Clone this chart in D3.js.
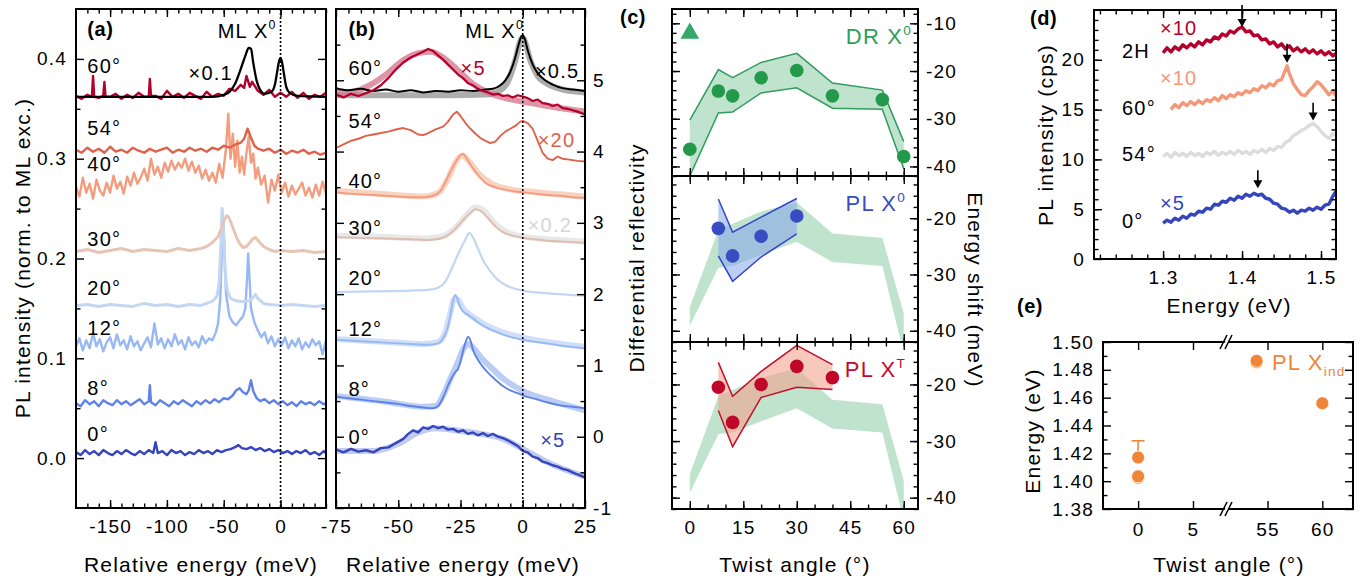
<!DOCTYPE html>
<html>
<head>
<meta charset="utf-8">
<script src="https://cdn.jsdelivr.net/npm/d3@7"></script>
<style>
  body { margin: 0; background: #fff; }
  svg text { font-family: 'Liberation Sans', Arial, Helvetica, sans-serif; }
</style>
</head>
<body>
<script>
// ---------------- data ----------------

// (a) PL spectra, [relative energy (meV), normalised PL intensity]
const plBlack60 = [[-180, .362], [-60, .362], [-50, .364], [-45, .367], [-40, .375], [-35, .390], [-31, .403], [-28, .411], [-26, .410], [-24, .396], [-21, .378], [-18, .369], [-14, .365], [-8, .367], [-5, .374], [-3, .387], [-1, .399], [0, .401], [1, .398], [3, .385], [5, .372], [8, .366], [15, .363], [40, .362]];
const pl60 = [[-180, .363], [-175, .360], [-170, .364], [-166, .362], [-165, .383], [-164, .362], [-160, .361], [-156, .363], [-155, .377], [-154, .362], [-150, .362], [-145, .365], [-140, .360], [-135, .364], [-130, .361], [-125, .366], [-120, .362], [-116, .362], [-115, .380], [-114, .363], [-110, .363], [-105, .360], [-100, .368], [-95, .362], [-90, .365], [-85, .361], [-80, .366], [-75, .363], [-70, .360], [-65, .367], [-60, .362], [-55, .365], [-50, .363], [-45, .370], [-40, .368], [-35, .374], [-32, .371], [-30, .383], [-27, .372], [-25, .377], [-20, .368], [-15, .364], [-10, .369], [-5, .362], [0, .366], [5, .362], [10, .367], [15, .361], [20, .366], [25, .360], [30, .364], [35, .362], [40, .366]];
const pl54 = [[-180, .309], [-175, .306], [-170, .311], [-165, .307], [-160, .310], [-155, .306], [-150, .312], [-145, .307], [-140, .309], [-135, .306], [-130, .311], [-125, .308], [-120, .306], [-115, .310], [-110, .307], [-105, .309], [-100, .311], [-95, .306], [-90, .309], [-85, .307], [-80, .311], [-75, .308], [-70, .310], [-65, .307], [-60, .311], [-55, .309], [-50, .313], [-45, .311], [-40, .314], [-35, .316], [-32, .320], [-29, .330], [-26, .321], [-23, .313], [-20, .310], [-15, .308], [-10, .310], [-5, .306], [0, .309], [5, .305], [10, .308], [15, .306], [20, .309], [25, .305], [30, .307], [35, .304], [40, .306]];
const pl40 = [[-180, .272], [-177, .262], [-174, .281], [-171, .266], [-168, .275], [-165, .260], [-162, .279], [-159, .268], [-156, .263], [-153, .276], [-150, .266], [-147, .283], [-144, .270], [-141, .277], [-138, .265], [-135, .282], [-132, .273], [-129, .286], [-126, .275], [-123, .281], [-120, .290], [-117, .278], [-114, .300], [-111, .284], [-108, .292], [-105, .281], [-102, .296], [-99, .287], [-96, .298], [-93, .289], [-90, .296], [-87, .291], [-84, .300], [-81, .288], [-78, .297], [-75, .286], [-72, .293], [-69, .280], [-66, .289], [-63, .278], [-60, .286], [-57, .276], [-54, .295], [-51, .281], [-48, .310], [-46, .345], [-44, .300], [-42, .325], [-40, .292], [-38, .318], [-36, .286], [-34, .302], [-32, .284], [-30, .306], [-28, .322], [-26, .296], [-24, .305], [-22, .280], [-20, .291], [-17, .274], [-14, .283], [-11, .256], [-8, .279], [-5, .268], [-2, .284], [1, .266], [4, .276], [7, .262], [10, .273], [13, .264], [16, .270], [19, .276], [22, .263], [25, .271], [28, .261], [31, .274], [34, .263], [37, .277], [40, .265]];
const pl30 = [[-180, .207], [-170, .209], [-160, .206], [-150, .208], [-140, .210], [-130, .207], [-120, .209], [-110, .208], [-100, .207], [-90, .210], [-80, .208], [-70, .210], [-65, .212], [-60, .216], [-55, .222], [-52, .230], [-49, .240], [-47, .243], [-45, .240], [-42, .231], [-39, .222], [-36, .215], [-33, .211], [-30, .212], [-27, .216], [-24, .220], [-22, .221], [-19, .217], [-15, .212], [-10, .209], [-5, .207], [0, .208], [10, .207], [20, .208], [30, .206], [40, .207]];
const pl20 = [[-180, .153], [-170, .154], [-160, .152], [-150, .154], [-140, .153], [-130, .152], [-120, .155], [-110, .153], [-100, .154], [-90, .152], [-80, .154], [-70, .153], [-65, .155], [-60, .157], [-56, .162], [-54, .175], [-52.5, .215], [-51.5, .250], [-50.5, .240], [-49, .190], [-47, .168], [-44, .160], [-40, .158], [-35, .157], [-30, .157], [-27, .158], [-24, .161], [-22, .164], [-20, .160], [-15, .155], [-10, .154], [0, .153], [10, .154], [20, .153], [30, .152], [40, .153]];
const pl12 = [[-180, .112], [-177, .120], [-174, .108], [-171, .118], [-168, .110], [-165, .125], [-162, .112], [-159, .119], [-156, .107], [-153, .116], [-150, .121], [-147, .110], [-144, .124], [-141, .113], [-138, .118], [-135, .109], [-132, .122], [-129, .112], [-126, .117], [-123, .108], [-120, .115], [-117, .121], [-114, .111], [-111, .135], [-108, .114], [-105, .120], [-102, .110], [-99, .119], [-96, .112], [-93, .124], [-90, .114], [-87, .118], [-84, .109], [-81, .121], [-78, .113], [-75, .117], [-72, .111], [-69, .122], [-66, .115], [-63, .120], [-60, .118], [-57, .126], [-55, .135], [-53, .160], [-51.5, .215], [-50.5, .235], [-49.5, .215], [-48, .165], [-45, .142], [-42, .136], [-39, .133], [-36, .138], [-33, .142], [-31, .150], [-29.5, .180], [-28.5, .205], [-27.5, .185], [-26, .150], [-23, .136], [-20, .128], [-17, .121], [-14, .126], [-11, .115], [-8, .122], [-5, .112], [-2, .119], [1, .113], [4, .121], [7, .110], [10, .118], [13, .112], [16, .120], [19, .109], [22, .116], [25, .111], [28, .119], [31, .113], [34, .117], [37, .104], [40, .118]];
const pl8 = [[-180, .055], [-176, .052], [-172, .058], [-168, .054], [-164, .057], [-160, .052], [-156, .058], [-152, .055], [-148, .053], [-144, .058], [-140, .054], [-136, .057], [-132, .053], [-128, .056], [-124, .059], [-120, .054], [-116, .057], [-115, .073], [-114, .056], [-110, .053], [-106, .058], [-102, .055], [-98, .052], [-94, .057], [-90, .054], [-86, .058], [-82, .055], [-78, .052], [-74, .057], [-70, .054], [-66, .058], [-62, .055], [-58, .059], [-54, .056], [-50, .060], [-46, .059], [-42, .063], [-39, .068], [-36, .070], [-33, .066], [-30, .064], [-28, .068], [-26, .078], [-24, .067], [-21, .060], [-18, .057], [-14, .059], [-10, .055], [-6, .058], [-2, .054], [2, .057], [6, .053], [10, .056], [14, .052], [18, .057], [22, .054], [26, .056], [30, .053], [34, .057], [38, .054], [40, .055]];
const pl0 = [[-180, .006], [-176, .003], [-172, .008], [-168, .004], [-164, .007], [-160, .003], [-156, .008], [-152, .005], [-148, .003], [-144, .007], [-140, .004], [-136, .008], [-132, .005], [-128, .003], [-124, .007], [-120, .004], [-116, .008], [-112, .005], [-110, .016], [-108, .005], [-104, .007], [-100, .003], [-96, .008], [-92, .005], [-88, .007], [-84, .003], [-80, .006], [-76, .004], [-72, .008], [-68, .005], [-64, .007], [-60, .004], [-56, .008], [-52, .006], [-48, .008], [-44, .009], [-40, .011], [-37, .013], [-34, .010], [-30, .009], [-26, .011], [-22, .008], [-18, .010], [-14, .007], [-10, .009], [-6, .006], [-2, .008], [2, .005], [6, .007], [10, .004], [14, .007], [18, .005], [22, .008], [26, .004], [30, .006], [34, .003], [38, .007], [40, .005]];
const aAngleLabels = ['60°', '54°', '40°', '30°', '20°', '12°', '8°', '0°'];
const aLabelLevels = [0.386, 0.324, 0.288, 0.213, 0.163, 0.123, 0.063, 0.017];

// (b) differential reflectivity, [relative energy (meV), DR]
const dr60Black = [[-75, 4.89], [-70, 4.86], [-65, 4.88], [-60, 4.85], [-55, 4.87], [-50, 4.84], [-45, 4.86], [-40, 4.83], [-35, 4.85], [-30, 4.84], [-25, 4.86], [-20, 4.85], [-15, 4.87], [-12, 4.88], [-9, 4.93], [-7, 5.00], [-5, 5.12], [-3, 5.32], [-1.5, 5.52], [-0.5, 5.62], [0, 5.63], [0.8, 5.58], [2, 5.42], [4, 5.22], [6, 5.10], [9, 5.00], [12, 4.94], [16, 4.89], [20, 4.87], [25, 4.85]];
const dr60BlackFit = [[-75, 4.79], [-50, 4.79], [-30, 4.79], [-15, 4.80], [-10, 4.84], [-6, 4.98], [-3, 5.28], [-1, 5.55], [0, 5.60], [1, 5.53], [3, 5.28], [6, 5.06], [10, 4.95], [15, 4.88], [25, 4.83]];
const dr60Red = [[-75, 4.80], [-72, 4.76], [-69, 4.81], [-66, 4.78], [-63, 4.82], [-60, 4.86], [-57, 4.93], [-54, 5.03], [-51, 5.15], [-48, 5.25], [-45, 5.32], [-42, 5.37], [-40, 5.40], [-38, 5.44], [-36, 5.41], [-34, 5.35], [-32, 5.29], [-30, 5.22], [-28, 5.15], [-26, 5.08], [-24, 5.03], [-22, 4.96], [-20, 4.93], [-18, 4.88], [-16, 4.85], [-14, 4.83], [-12, 4.80], [-10, 4.81], [-8, 4.78], [-6, 4.79], [-4, 4.76], [-2, 4.79], [0, 4.77], [2, 4.75], [4, 4.71], [6, 4.73], [8, 4.68], [10, 4.67], [12, 4.64], [14, 4.66], [16, 4.61], [18, 4.60], [20, 4.58], [22, 4.56], [25, 4.52]];
const dr60RedFit = [[-75, 4.82], [-68, 4.84], [-62, 4.92], [-55, 5.08], [-48, 5.28], [-42, 5.38], [-37, 5.40], [-32, 5.32], [-26, 5.14], [-20, 4.95], [-14, 4.83], [-8, 4.76], [0, 4.70], [10, 4.64], [25, 4.56]];
const dr54 = [[-75, 4.05], [-72, 4.10], [-69, 4.15], [-66, 4.18], [-63, 4.22], [-60, 4.24], [-57, 4.26], [-54, 4.28], [-51, 4.31], [-48, 4.33], [-45, 4.30], [-42, 4.24], [-40, 4.23], [-38, 4.26], [-35, 4.31], [-32, 4.35], [-30, 4.42], [-28, 4.52], [-26.5, 4.56], [-25, 4.50], [-23, 4.40], [-21, 4.32], [-19, 4.25], [-17, 4.19], [-15, 4.15], [-13, 4.12], [-11, 4.14], [-9, 4.22], [-7, 4.28], [-5, 4.32], [-3, 4.36], [-1, 4.42], [0, 4.43], [2, 4.40], [4, 4.32], [6, 4.15], [8, 3.98], [10, 3.90], [12, 3.88], [14, 3.93], [16, 3.90], [18, 3.89], [20, 3.88], [22, 3.87], [25, 3.86]];
const dr40 = [[-75, 3.43], [-70, 3.41], [-65, 3.40], [-60, 3.39], [-55, 3.38], [-50, 3.37], [-45, 3.36], [-40, 3.36], [-36, 3.38], [-33, 3.45], [-31, 3.58], [-29, 3.72], [-27, 3.85], [-25, 3.95], [-24, 3.97], [-23, 3.93], [-21, 3.82], [-19, 3.72], [-17, 3.63], [-15, 3.56], [-12, 3.51], [-9, 3.48], [-6, 3.46], [-3, 3.44], [0, 3.43], [5, 3.41], [10, 3.39], [15, 3.38], [20, 3.36], [25, 3.35]];
const dr40Fit = [[-75, 3.45], [-55, 3.40], [-40, 3.37], [-34, 3.42], [-30, 3.62], [-27, 3.85], [-24.5, 3.94], [-22, 3.88], [-18, 3.70], [-13, 3.56], [-5, 3.47], [5, 3.43], [15, 3.40], [25, 3.37]];
const dr30 = [[-75, 2.80], [-65, 2.79], [-55, 2.78], [-45, 2.77], [-38, 2.76], [-33, 2.78], [-30, 2.83], [-27, 2.92], [-24, 3.04], [-21, 3.14], [-19, 3.19], [-17, 3.17], [-14, 3.07], [-11, 2.95], [-8, 2.87], [-4, 2.82], [0, 2.79], [5, 2.77], [10, 2.75], [15, 2.74], [20, 2.73], [25, 2.72]];
const dr30Fit = [[-75, 2.82], [-55, 2.80], [-40, 2.78], [-32, 2.81], [-27, 2.93], [-22, 3.13], [-19, 3.22], [-16, 3.18], [-12, 3.02], [-7, 2.88], [0, 2.81], [10, 2.77], [25, 2.74]];
const dr20 = [[-75, 2.03], [-60, 2.04], [-45, 2.05], [-38, 2.06], [-34, 2.09], [-31, 2.18], [-29, 2.32], [-27, 2.48], [-25, 2.63], [-23, 2.77], [-21.5, 2.86], [-20, 2.80], [-18, 2.64], [-16, 2.48], [-13, 2.32], [-10, 2.20], [-6, 2.11], [0, 2.05], [10, 2.01], [25, 1.98]];
const dr12 = [[-75, 1.36], [-65, 1.34], [-55, 1.32], [-45, 1.30], [-38, 1.29], [-34, 1.31], [-32, 1.38], [-30, 1.55], [-29, 1.72], [-28, 1.90], [-27.2, 1.99], [-26.5, 1.96], [-25.5, 1.85], [-24, 1.76], [-22, 1.71], [-20, 1.66], [-17, 1.58], [-14, 1.52], [-10, 1.46], [-5, 1.40], [0, 1.36], [5, 1.33], [10, 1.31], [15, 1.28], [20, 1.26], [25, 1.24]];
const dr12Fit = [[-75, 1.37], [-55, 1.33], [-40, 1.30], [-34, 1.33], [-31, 1.48], [-29, 1.75], [-27.5, 1.93], [-26, 1.92], [-24, 1.80], [-20, 1.68], [-15, 1.57], [-10, 1.49], [0, 1.39], [10, 1.33], [25, 1.26]];
const dr8 = [[-75, 0.56], [-70, 0.54], [-65, 0.52], [-60, 0.50], [-55, 0.48], [-50, 0.46], [-45, 0.43], [-40, 0.41], [-36, 0.40], [-34, 0.43], [-32, 0.55], [-30, 0.72], [-28, 0.86], [-27, 0.91], [-26, 0.95], [-25, 1.05], [-24, 1.20], [-23, 1.32], [-22, 1.40], [-21, 1.35], [-20, 1.22], [-18, 1.08], [-16, 0.98], [-14, 0.90], [-11, 0.80], [-8, 0.71], [-5, 0.65], [-2, 0.61], [0, 0.58], [5, 0.53], [10, 0.48], [15, 0.44], [20, 0.42], [25, 0.40]];
const dr8Fit = [[-75, 0.57], [-55, 0.49], [-40, 0.42], [-35, 0.43], [-32, 0.58], [-29, 0.82], [-26, 1.05], [-24, 1.22], [-22, 1.30], [-20, 1.25], [-17, 1.12], [-13, 0.98], [-8, 0.82], [-3, 0.70], [0, 0.64], [10, 0.52], [25, 0.37]];
const dr0 = [[-75, -0.18], [-72, -0.22], [-69, -0.17], [-66, -0.21], [-63, -0.19], [-60, -0.22], [-57, -0.16], [-54, -0.15], [-51, -0.09], [-48, -0.03], [-46, 0.04], [-44, 0.09], [-42, 0.06], [-40, 0.13], [-38, 0.11], [-36, 0.15], [-34, 0.12], [-32, 0.14], [-30, 0.10], [-28, 0.11], [-26, 0.07], [-24, 0.09], [-22, 0.04], [-20, 0.06], [-18, 0.02], [-16, 0.05], [-14, 0.01], [-12, 0.04], [-10, 0.00], [-8, -0.02], [-6, -0.05], [-4, -0.09], [-2, -0.13], [0, -0.20], [2, -0.22], [4, -0.28], [6, -0.30], [8, -0.35], [10, -0.37], [12, -0.40], [14, -0.42], [16, -0.45], [18, -0.47], [20, -0.50], [22, -0.53], [25, -0.57]];
const dr0Fit = [[-75, -0.20], [-60, -0.20], [-50, -0.10], [-42, 0.06], [-35, 0.12], [-25, 0.08], [-15, 0.03], [-8, -0.03], [0, -0.17], [10, -0.36], [25, -0.56]];
const bLabelLevels = [5.07, 4.33, 3.49, 2.83, 2.13, 1.41, 0.57, -0.10];

// (c) energy shifts vs twist angle (meV)
const drAngles = [0, 8, 12, 20, 30, 40, 54, 60];
const drShift = [-36.4, -24.2, -25.2, -21.4, -19.9, -25.2, -26.0, -37.9];
const drUpper = [-30.3, -19.7, -21.4, -18.2, -16.3, -22.5, -24.0, -34.8];
const drLower = [-42.0, -28.8, -28.6, -24.6, -23.5, -27.8, -28.0, -40.5];
const drTriangle = [0, -12.1];
const refUpper = [-35.8, -22.1, -21.0, -18.8, -17.2, -22.7, -23.5, -37.0];
const refLower = [-39.1, -28.8, -28.5, -26.5, -24.2, -27.8, -28.5, -44.0];
const plAngles = [8, 12, 20, 30];
const plShift = [-21.8, -26.7, -23.2, -19.6];
const plUpper = [-16.6, -22.5, -19.8, -16.5];
const plLower = [-26.7, -31.2, -26.9, -22.8];
const trAngles = [8, 12, 20, 30, 40];
const trShift = [-20.5, -26.7, -20.0, -16.8, -18.8];
const trUpper = [-16.1, -22.1, -17.7, -13.1, -16.5];
const trLower = [-24.6, -31.0, -22.3, -20.5, -20.9];

// (d) PL spectra, [energy (eV), counts/s]
const d2H = [[1.300, 20.7], [1.305, 21.2], [1.310, 20.8], [1.315, 21.3], [1.320, 21.0], [1.325, 21.5], [1.330, 21.2], [1.335, 21.6], [1.340, 21.3], [1.345, 21.8], [1.350, 21.5], [1.355, 22.0], [1.360, 21.8], [1.365, 22.3], [1.370, 22.1], [1.375, 22.6], [1.380, 22.4], [1.385, 22.9], [1.390, 22.7], [1.395, 23.1], [1.400, 23.3], [1.405, 22.8], [1.410, 22.9], [1.415, 22.4], [1.420, 22.5], [1.425, 22.0], [1.430, 22.1], [1.435, 21.6], [1.440, 21.8], [1.445, 21.3], [1.450, 21.6], [1.455, 21.1], [1.460, 21.4], [1.465, 20.9], [1.470, 21.2], [1.475, 20.8], [1.480, 21.1], [1.485, 20.7], [1.490, 21.0], [1.495, 20.6], [1.500, 20.9], [1.505, 20.5], [1.510, 20.8], [1.515, 20.4], [1.520, 20.7]];
const d60 = [[1.310, 15.0], [1.315, 15.5], [1.320, 15.2], [1.325, 15.7], [1.330, 15.4], [1.335, 15.8], [1.340, 15.5], [1.345, 15.9], [1.350, 15.6], [1.355, 16.0], [1.360, 15.8], [1.365, 16.2], [1.370, 15.9], [1.375, 16.4], [1.380, 16.1], [1.385, 16.5], [1.390, 16.3], [1.395, 16.7], [1.400, 16.5], [1.405, 16.9], [1.410, 16.7], [1.415, 17.1], [1.420, 16.9], [1.425, 17.4], [1.430, 17.2], [1.435, 17.6], [1.440, 17.4], [1.445, 17.9], [1.450, 18.0], [1.455, 19.0], [1.457, 19.4], [1.460, 18.6], [1.465, 17.6], [1.470, 17.0], [1.475, 16.5], [1.480, 16.4], [1.485, 16.9], [1.490, 17.3], [1.495, 17.8], [1.500, 17.5], [1.505, 17.0], [1.510, 16.5], [1.515, 16.9], [1.520, 16.2]];
const d54 = [[1.300, 10.3], [1.305, 10.6], [1.310, 10.2], [1.315, 10.7], [1.320, 10.4], [1.325, 10.6], [1.330, 10.3], [1.335, 10.7], [1.340, 10.4], [1.345, 10.6], [1.350, 10.3], [1.355, 10.7], [1.360, 10.5], [1.365, 10.8], [1.370, 10.4], [1.375, 10.7], [1.380, 10.5], [1.385, 10.8], [1.390, 10.5], [1.395, 10.9], [1.400, 10.6], [1.405, 10.8], [1.410, 10.5], [1.415, 10.9], [1.420, 10.7], [1.425, 11.0], [1.430, 10.7], [1.435, 11.1], [1.440, 10.9], [1.445, 11.3], [1.450, 11.2], [1.455, 11.7], [1.460, 11.9], [1.465, 12.4], [1.470, 12.6], [1.475, 12.9], [1.480, 13.1], [1.485, 13.4], [1.490, 13.6], [1.495, 13.3], [1.500, 12.8], [1.505, 12.4], [1.510, 12.1], [1.515, 12.6], [1.520, 12.3]];
const d0 = [[1.300, 3.6], [1.305, 3.9], [1.310, 3.7], [1.315, 4.1], [1.320, 3.9], [1.325, 4.3], [1.330, 4.1], [1.335, 4.5], [1.340, 4.4], [1.345, 4.8], [1.350, 4.7], [1.355, 5.1], [1.360, 5.0], [1.365, 5.5], [1.370, 5.4], [1.375, 5.8], [1.380, 5.7], [1.385, 6.1], [1.390, 5.9], [1.395, 6.3], [1.400, 6.1], [1.405, 6.5], [1.410, 6.3], [1.415, 6.6], [1.420, 6.4], [1.425, 6.5], [1.430, 6.1], [1.435, 6.0], [1.440, 5.6], [1.445, 5.5], [1.450, 5.1], [1.455, 5.0], [1.460, 4.7], [1.465, 4.9], [1.470, 4.6], [1.475, 4.9], [1.480, 4.8], [1.485, 5.1], [1.490, 4.9], [1.495, 5.2], [1.500, 5.0], [1.505, 5.4], [1.510, 5.5], [1.515, 6.3], [1.520, 6.9]];
const arrowEnergy = [1.400, 1.457, 1.490, 1.420];
const arrowFrom = [25.5, 21.6, 15.7, 8.9];
const arrowTo = [23.3, 19.7, 13.9, 7.1];

// (e) interlayer exciton energies
const xindAngles = [0, 0, 0, 54, 54, 60];
const xindEnergy = [1.4025, 1.4035, 1.417, 1.4855, 1.4865, 1.456];
const xindErrTop = 1.429;

// ---------------- drawing ----------------
const svg = d3.select('body').append('svg').attr('width', 1371).attr('height', 585);
const defs = svg.append('defs');

function clip(id, x0, y0, x1, y1) {
  defs.append('clipPath').attr('id', id).append('rect')
    .attr('x', x0).attr('y', y0).attr('width', x1 - x0).attr('height', y1 - y0);
  return `url(#${id})`;
}

// one row of ticks through d3.axis, styled like the figure
function tickRow(g, axisFn, scale, vals, size, tr, fmt, pad) {
  const sel = g.append('g').attr('transform', tr)
    .call(axisFn(scale).tickValues(vals).tickSize(size).tickPadding(pad || 0).tickFormat(fmt || (() => '')));
  sel.attr('font-family', null).attr('font-size', null);
  sel.select('.domain').remove();
  sel.selectAll('line').attr('stroke', '#000').attr('stroke-width', 1.4);
  sel.selectAll('text').attr('fill', '#000').style('font-size', '19px').style('letter-spacing', '1.2px');
  return sel;
}

function frame(g, xs, ys, o) {
  const [xl, xr] = xs.range();
  const [yb, yt] = ys.range();
  tickRow(g, d3.axisBottom, xs, o.xMinor, -4.5, `translate(0,${yb})`);
  tickRow(g, d3.axisBottom, xs, o.xMajor, -8, `translate(0,${yb})`, o.xFmt, 12);
  tickRow(g, d3.axisTop, xs, o.xMinor, -4.5, `translate(0,${yt})`);
  tickRow(g, d3.axisTop, xs, o.xMajor, -8, `translate(0,${yt})`);
  tickRow(g, d3.axisLeft, ys, o.yMinor, -4.5, `translate(${xl},0)`);
  tickRow(g, d3.axisLeft, ys, o.yMajor, -8, `translate(${xl},0)`, o.yLeftFmt, 9);
  tickRow(g, d3.axisRight, ys, o.yMinor, -4.5, `translate(${xr},0)`);
  tickRow(g, d3.axisRight, ys, o.yMajor, -8, `translate(${xr},0)`, o.yRightFmt, 8);
  g.append('rect').attr('x', xl).attr('y', yt).attr('width', xr - xl).attr('height', yb - yt)
    .attr('fill', 'none').attr('stroke', '#000').attr('stroke-width', 2);
}

function label(g, x, y, txt, o = {}) {
  const t = g.append('text').attr('x', x).attr('y', y)
    .attr('font-size', o.size || 20).attr('fill', o.color || '#000')
    .attr('text-anchor', o.anchor || 'start')
    .attr('font-weight', o.bold ? 'bold' : null)
    .style('letter-spacing', (o.ls === undefined ? 1.2 : o.ls) + 'px');
  t.append('tspan').text(txt);
  if (o.sup) t.append('tspan').attr('font-size', (o.size || 20) * 0.62).attr('dy', -9).text(o.sup);
  if (o.sub) t.append('tspan').attr('font-size', (o.size || 20) * 0.62).attr('dy', 6).text(o.sub);
  return t;
}

function axisTitle(x, y, txt, rot) {
  svg.append('text').attr('transform', `translate(${x},${y}) rotate(${rot || 0})`)
    .attr('text-anchor', 'middle').attr('font-size', 21).style('letter-spacing', '1.2px').text(txt);
}

const lineOf = (xs, ys, curve) => d3.line().x((d) => xs(d[0])).y((d) => ys(d[1])).curve(curve || d3.curveLinear);

function trace(g, data, xs, ys, color, width, o = {}) {
  g.append('path').datum(data).attr('d', lineOf(xs, ys, o.curve)(data))
    .attr('fill', 'none').attr('stroke', color).attr('stroke-width', width)
    .attr('stroke-linejoin', 'round').attr('stroke-opacity', o.opacity || 1);
}

const COL = {
  a60: '#b4002c', a54: '#e0604a', a40: '#f49c7e', a30: '#e7c5b6', a20: '#c3d6f2',
  a12: '#97b8f3', a8: '#5f82e6', a0: '#3545bd',
};

// ---------- (a) ----------
const xa = d3.scaleLinear().domain([-180, 40]).range([76, 326]);
const ya = d3.scaleLinear().domain([-0.05, 0.45]).range([508, 9]);
const ga = svg.append('g');
const pa = ga.append('g').attr('clip-path', clip('clipA', 76, 9, 326, 508));
[[pl0, COL.a0, 2.4], [pl8, COL.a8, 2.4], [pl12, COL.a12, 2.4], [pl20, COL.a20, 3], [pl30, COL.a30, 3], [pl40, COL.a40, 2.4], [pl54, COL.a54, 2.4], [pl60, COL.a60, 2.4]]
  .forEach(([d, c, w]) => trace(pa, d, xa, ya, c, w));
trace(pa, plBlack60, xa, ya, '#000', 2.3, { curve: d3.curveMonotoneX });
pa.append('line').attr('x1', xa(0)).attr('x2', xa(0)).attr('y1', 9).attr('y2', 508)
  .attr('stroke', '#000').attr('stroke-width', 1.6).attr('stroke-dasharray', '2,2');
frame(ga, xa, ya, {
  xMajor: [-150, -100, -50, 0], xMinor: d3.range(-170, 41, 10), xFmt: (d) => String(d),
  yMajor: [0, 0.1, 0.2, 0.3, 0.4], yMinor: [0.05, 0.15, 0.25, 0.35], yLeftFmt: d3.format('.1f'),
});
aAngleLabels.forEach((t, i) => label(ga, xa(-170), ya(aLabelLevels[i]), t));
label(ga, xa(-170), 36, '(a)', { bold: true, ls: 0.5 });
label(ga, xa(-81), ya(0.379), '×0.1');
label(ga, xa(-3.5), 38, 'ML X', { anchor: 'end', sup: '0' });
axisTitle(30, 258, 'PL intensity (norm. to ML exc.)', -90);
axisTitle(201, 572, 'Relative energy (meV)');

// ---------- (b) ----------
const xb = d3.scaleLinear().domain([-75, 25]).range([336, 585]);
const yb = d3.scaleLinear().domain([-1, 6]).range([508, 9]);
const gb = svg.append('g');
const pb = gb.append('g').attr('clip-path', clip('clipB', 336, 9, 585, 508));
const smooth = { curve: d3.curveMonotoneX };
trace(pb, dr0Fit, xb, yb, '#9aa8e8', 6, { curve: d3.curveMonotoneX, opacity: 0.6 });
trace(pb, dr8Fit, xb, yb, '#a9c0f5', 6, { curve: d3.curveMonotoneX, opacity: 0.8 });
trace(pb, dr12Fit, xb, yb, '#c5d7f8', 6, { curve: d3.curveMonotoneX, opacity: 0.8 });
trace(pb, dr30Fit, xb, yb, '#e6e6e6', 6, { curve: d3.curveMonotoneX, opacity: 0.9 });
trace(pb, dr40Fit, xb, yb, '#f8cdb9', 6, { curve: d3.curveMonotoneX, opacity: 0.9 });
trace(pb, dr60BlackFit, xb, yb, '#8a8a8a', 6, { curve: d3.curveMonotoneX, opacity: 0.7 });
trace(pb, dr60RedFit, xb, yb, '#d67a92', 6, { curve: d3.curveMonotoneX, opacity: 0.8 });
trace(pb, dr0, xb, yb, COL.a0, 2.4);
trace(pb, dr8, xb, yb, COL.a8, 1.9, smooth);
trace(pb, dr12, xb, yb, COL.a12, 1.9, smooth);
trace(pb, dr20, xb, yb, COL.a20, 2.2, smooth);
trace(pb, dr30, xb, yb, '#dfbcae', 1.9, smooth);
trace(pb, dr40, xb, yb, COL.a40, 1.9, smooth);
trace(pb, dr54, xb, yb, COL.a54, 1.9);
trace(pb, dr60Black, xb, yb, '#000', 2, smooth);
trace(pb, dr60Red, xb, yb, COL.a60, 2.2);
pb.append('line').attr('x1', xb(0)).attr('x2', xb(0)).attr('y1', 9).attr('y2', 508)
  .attr('stroke', '#000').attr('stroke-width', 1.6).attr('stroke-dasharray', '2,2');
frame(gb, xb, yb, {
  xMajor: [-75, -50, -25, 0, 25], xMinor: d3.range(-70, 21, 5), xFmt: (d) => String(d),
  yMajor: [-1, 0, 1, 2, 3, 4, 5], yMinor: d3.range(-0.5, 6, 1), yRightFmt: (d) => String(d),
});
aAngleLabels.forEach((t, i) => label(gb, xb(-70), yb(bLabelLevels[i]), t));
label(gb, xb(-70), 36, '(b)', { bold: true, ls: 0.5 });
label(gb, xb(-25), yb(5.07), '×5', { color: COL.a60 });
label(gb, xb(4.9), yb(5.03), '×0.5');
label(gb, xb(6), yb(4.06), '×20', { color: COL.a54 });
label(gb, xb(2), yb(2.87), '×0.2', { color: '#d6d6d6' });
label(gb, xb(7), yb(-0.14), '×5', { color: COL.a0 });
label(gb, xb(0.5), 38, 'ML X', { anchor: 'end', sup: '0' });
axisTitle(463, 572, 'Relative energy (meV)');
axisTitle(644, 258, 'Differential reflectivity', -90);

// ---------- (c) ----------
const xc = d3.scaleLinear().domain([-5, 64]).range([672, 918]);
const ycTop = d3.scaleLinear().domain([-42, -7]).range([176, 9]);
const ycMid = d3.scaleLinear().domain([-42, -12.5]).range([342, 176]);
const ycBot = d3.scaleLinear().domain([-42, -12.5]).range([509, 342]);
const gc = svg.append('g');
const zip = (ang, a, b) => ang.map((x, i) => ({ x, lo: a[i], hi: b[i] }));
const band = (ys) => d3.area().x((d) => xc(d.x)).y0((d) => ys(d.lo)).y1((d) => ys(d.hi));
const edge = (ys, key) => d3.line().x((d) => xc(d.x)).y((d) => ys(d[key]));

function bandLayer(g, ys, ang, lo, hi, fill, fillOpacity, stroke) {
  const data = zip(ang, lo, hi);
  g.append('path').attr('d', band(ys)(data)).attr('fill', fill).attr('fill-opacity', fillOpacity);
  if (stroke) {
    ['lo', 'hi'].forEach((k) => g.append('path').attr('d', edge(ys, k)(data))
      .attr('fill', 'none').attr('stroke', stroke).attr('stroke-width', 1.5));
  }
}
function dots(g, ys, ang, vals, color) {
  g.selectAll(null).data(ang).enter().append('circle')
    .attr('cx', (d) => xc(d)).attr('cy', (d, i) => ys(vals[i])).attr('r', 6.8).attr('fill', color);
}

const GREEN = '#23994c';
const c1 = gc.append('g').attr('clip-path', clip('clipC1', 672, 9, 918, 176));
bandLayer(c1, ycTop, drAngles, drLower, drUpper, '#bfe3cc', 1, '#2f9d5c');
dots(c1, ycTop, drAngles, drShift, GREEN);
c1.append('path').attr('d', d3.symbol(d3.symbolTriangle, 150)())
  .attr('transform', `translate(${xc(drTriangle[0])},${ycTop(drTriangle[1])})`).attr('fill', '#34a866');

const c2 = gc.append('g').attr('clip-path', clip('clipC2', 672, 176, 918, 342));
bandLayer(c2, ycMid, drAngles, refLower, refUpper, '#bfe3cc', 1);
bandLayer(c2, ycMid, plAngles, plLower, plUpper, '#86a6ec', 0.55, '#3344cc');
dots(c2, ycMid, plAngles, plShift, '#3a4cc2');

const c3 = gc.append('g').attr('clip-path', clip('clipC3', 672, 342, 918, 509));
bandLayer(c3, ycBot, drAngles, refLower, refUpper, '#bfe3cc', 1);
bandLayer(c3, ycBot, trAngles, trLower, trUpper, '#f2a48e', 0.6, '#c0102e');
dots(c3, ycBot, trAngles, trShift, '#c0072a');

const cTicks = { xMajor: [0, 15, 30, 45, 60], xMinor: d3.range(0, 61, 5), yRightFmt: (d) => String(d) };
frame(gc, xc, ycTop, { ...cTicks, yMajor: [-40, -30, -20, -10], yMinor: d3.range(-42, -7, 2) });
frame(gc, xc, ycMid, { ...cTicks, yMajor: [-40, -30, -20], yMinor: d3.range(-42, -13, 2) });
frame(gc, xc, ycBot, { ...cTicks, yMajor: [-40, -30, -20], yMinor: d3.range(-42, -13, 2), xFmt: (d) => String(d) });
label(gc, 912, 44, 'DR X', { anchor: 'end', size: 22, color: '#2e9e58', sup: '0' });
label(gc, 906, 211, 'PL X', { anchor: 'end', size: 22, color: '#3a4cc2', sup: '0' });
label(gc, 906, 377, 'PL X', { anchor: 'end', size: 22, color: '#c00a2e', sup: 'T' });
label(gc, 620, 24, '(c)', { bold: true, ls: 0.5 });
axisTitle(795, 572, 'Twist angle (°)');
axisTitle(968, 290, 'Energy shift (meV)', 90);

// ---------- (d) ----------
const xd = d3.scaleLinear().domain([1.2125, 1.519]).range([1094, 1336]);
const yd = d3.scaleLinear().domain([0, 25]).range([259, 10]);
const gd = svg.append('g');
const pd = gd.append('g').attr('clip-path', clip('clipD', 1094, 10, 1336, 259));
trace(pd, d0, xd, yd, COL.a0, 3.4);
trace(pd, d54, xd, yd, '#dcdcdc', 3.4);
trace(pd, d60, xd, yd, '#f4987a', 3.4);
trace(pd, d2H, xd, yd, COL.a60, 3.4);
frame(gd, xd, yd, {
  xMajor: [1.3, 1.4, 1.5], xMinor: d3.range(1.22, 1.511, 0.02), xFmt: d3.format('.1f'),
  yMajor: [0, 5, 10, 15, 20], yMinor: d3.range(1, 25, 1), yLeftFmt: (d) => String(d),
});
arrowEnergy.forEach((e, i) => {
  const x = xd(e); const y0 = yd(arrowFrom[i]); const y1 = yd(arrowTo[i]);
  gd.append('line').attr('x1', x).attr('x2', x).attr('y1', y0).attr('y2', y1 - 6)
    .attr('stroke', '#000').attr('stroke-width', 1.6);
  gd.append('path').attr('d', `M${x - 4.5},${y1 - 8}L${x + 4.5},${y1 - 8}L${x},${y1}Z`).attr('fill', '#000');
});
label(gd, xd(1.296), yd(22.5), '×10', { color: COL.a60 });
label(gd, xd(1.248), yd(20.2), '2H');
label(gd, xd(1.296), yd(17.5), '×10', { color: '#f4987a' });
label(gd, xd(1.248), yd(14.5), '60°');
label(gd, xd(1.248), yd(9.8), '54°');
label(gd, xd(1.296), yd(4.9), '×5', { color: COL.a0 });
label(gd, xd(1.248), yd(3.1), '0°');
label(gd, 1030, 25, '(d)', { bold: true, ls: 0.5 });
axisTitle(1053, 135, 'PL intensity (cps)', -90);
axisTitle(1229, 313, 'Energy (eV)');

// ---------- (e) ----------
const xeL = d3.scaleLinear().domain([-3.2, 8.1]).range([1103, 1227]);
const xeR = d3.scaleLinear().domain([51.3, 62.8]).range([1227, 1353]);
const ye = d3.scaleLinear().domain([1.38, 1.50]).range([509, 342]);
const xe = (a) => (a < 30 ? xeL(a) : xeR(a));
const ge = svg.append('g');
const ORANGE = '#ef8536';
ge.append('line').attr('x1', xe(0)).attr('x2', xe(0)).attr('y1', ye(xindErrTop)).attr('y2', ye(xindEnergy[2]))
  .attr('stroke', ORANGE).attr('stroke-width', 1.6);
ge.append('line').attr('x1', xe(0) - 6.5).attr('x2', xe(0) + 6.5).attr('y1', ye(xindErrTop)).attr('y2', ye(xindErrTop))
  .attr('stroke', ORANGE).attr('stroke-width', 1.6);
ge.selectAll(null).data(xindAngles).enter().append('circle')
  .attr('cx', (d) => xe(d)).attr('cy', (d, i) => ye(xindEnergy[i])).attr('r', 6.5)
  .attr('fill', ORANGE).attr('stroke', '#fff').attr('stroke-width', 0.8);
const eFmt = d3.format('.2f');
tickRow(ge, d3.axisBottom, xeL, [0, 5], -8, 'translate(0,509)', (d) => String(d), 14);
tickRow(ge, d3.axisBottom, xeR, [55, 60], -8, 'translate(0,509)', (d) => String(d), 14);
tickRow(ge, d3.axisTop, xeL, [0, 5], -8, 'translate(0,342)');
tickRow(ge, d3.axisTop, xeR, [55, 60], -8, 'translate(0,342)');
tickRow(ge, d3.axisLeft, ye, d3.range(1.39, 1.50, 0.02), -4.5, 'translate(1103,0)');
tickRow(ge, d3.axisLeft, ye, d3.range(1.38, 1.501, 0.02), -8, 'translate(1103,0)', eFmt, 9);
tickRow(ge, d3.axisRight, ye, d3.range(1.39, 1.50, 0.02), -4.5, 'translate(1353,0)');
tickRow(ge, d3.axisRight, ye, d3.range(1.38, 1.501, 0.02), -8, 'translate(1353,0)');
ge.append('rect').attr('x', 1103).attr('y', 342).attr('width', 250).attr('height', 167)
  .attr('fill', 'none').attr('stroke', '#000').attr('stroke-width', 2);
[342, 509].forEach((y) => {
  ge.append('path').attr('d', `M${1222},${y + 6}L${1228},${y - 6}L${1232},${y - 6}L${1226},${y + 6}Z`).attr('fill', '#fff');
  [[1220, 1227], [1225, 1232]].forEach(([a, b]) => ge.append('line')
    .attr('x1', a).attr('y1', y + 7).attr('x2', b).attr('y2', y - 7).attr('stroke', '#000').attr('stroke-width', 1.5));
});
label(ge, 1272, 370, 'PL X', { size: 22, color: ORANGE, sub: 'ind' });
label(ge, 1017, 313, '(e)', { bold: true, ls: 0.5 });
axisTitle(1040, 431, 'Energy (eV)', -90);
axisTitle(1229, 572, 'Twist angle (°)');
</script>
</body>
</html>
